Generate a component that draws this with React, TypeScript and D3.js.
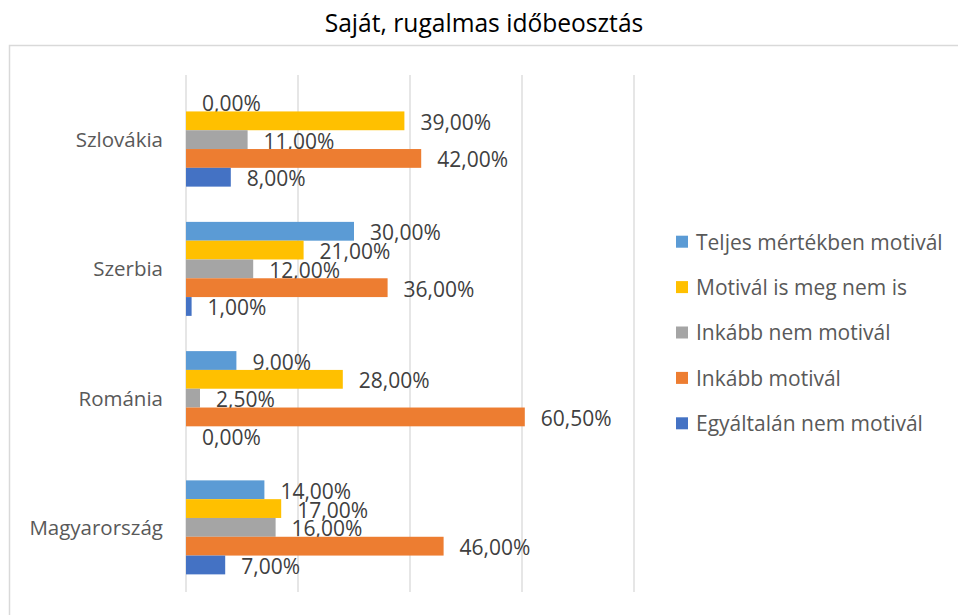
import React from "react";
import * as d3 from "d3";

const title = "Saját, rugalmas időbeosztás";
const categories = ["Szlovákia", "Szerbia", "Románia", "Magyarország"];
const seriesNames = [
  "Teljes mértékben motivál",
  "Motivál is meg nem is",
  "Inkább nem motivál",
  "Inkább motivál",
  "Egyáltalán nem motivál",
];
const seriesColors = ["#5B9BD5", "#FFC000", "#A5A5A5", "#ED7D31", "#4472C4"];
const teljes = [0, 30, 9, 14];
const semleges = [39, 21, 28, 17];
const inkabbNem = [11, 12, 2.5, 16];
const inkabb = [42, 36, 60.5, 46];
const egyaltalan = [8, 1, 0, 7];
const seriesValues = [teljes, semleges, inkabbNem, inkabb, egyaltalan];
const gridTicks = [0, 20, 40, 60, 80];

const W = 958;
const H = 615;
const FONT = "'Open Sans', 'Noto Sans', sans-serif";

export default function App() {
  const x = d3.scaleLinear().domain([0, 80]).range([186, 634]);
  const y = d3
    .scaleBand<string>()
    .domain(categories)
    .range([75, 592])
    .paddingInner(0.2727)
    .paddingOuter(0.1364);
  const inner = d3
    .scaleBand<string>()
    .domain(seriesNames)
    .range([0, y.bandwidth()])
    .padding(0);
  const fmt = (v: number) => v.toFixed(2).replace(".", ",") + "%";

  return (
    <svg
      width={W}
      height={H}
      style={{ position: "absolute", left: 0, top: 0, background: "#fff" }}
      fontFamily={FONT}
    >
      <rect x={0} y={0} width={W} height={H} fill="#fff" />
      <rect
        x={9.5}
        y={45.5}
        width={1100}
        height={800}
        fill="none"
        stroke="#D9D9D9"
        strokeWidth={1.5}
      />
      <text
        x={484}
        y={32}
        textAnchor="middle"
        fontSize={24.6}
        fill="#000"
        fontFamily={FONT}
      >
        {title}
      </text>
      {gridTicks.map((t) => (
        <line
          key={t}
          x1={x(t)}
          x2={x(t)}
          y1={75}
          y2={592}
          stroke="#D9D9D9"
          strokeWidth={1.3}
        />
      ))}
      {categories.map((c, ci) => (
        <g key={c}>
          <text
            x={163}
            y={(y(c) as number) + y.bandwidth() / 2 + 7.5}
            textAnchor="end"
            fontSize={20.5}
            fill="#595959"
          >
            {c}
          </text>
          {seriesNames.map((s, si) => {
            const v = seriesValues[si][ci];
            const by = (y(c) as number) + (inner(s) as number);
            const bh = inner.bandwidth();
            return (
              <g key={s}>
                <rect
                  x={x(0)}
                  y={by}
                  width={x(v) - x(0)}
                  height={bh}
                  fill={seriesColors[si]}
                />
                <text
                  x={x(v) + 16}
                  y={by + bh / 2 + 9}
                  fontSize={21}
                  fill="#404040"
                >
                  {fmt(v)}
                </text>
              </g>
            );
          })}
        </g>
      ))}
      {seriesNames.map((s, i) => {
        const cy = 241.7 + i * 45.4;
        return (
          <g key={s}>
            <rect x={676} y={cy - 6} width={12} height={12} fill={seriesColors[i]} />
            <text x={696} y={cy + 7.8} fontSize={21} fill="#595959">
              {s}
            </text>
          </g>
        );
      })}
    </svg>
  );
}
